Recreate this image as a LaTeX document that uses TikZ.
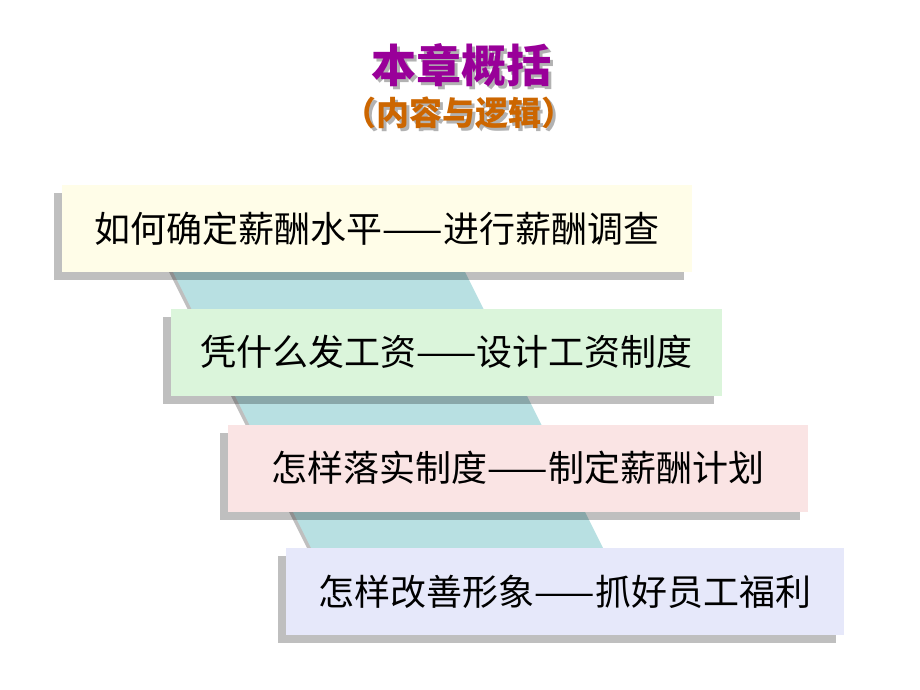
\documentclass[tikz,border=0pt]{standalone}
\usepackage{fontspec}
\newfontfamily\cjk{Noto Sans CJK SC}
\usetikzlibrary{shadows}
\definecolor{titlepurple}{RGB}{153,0,153}
\definecolor{suborange}{RGB}{204,102,0}
\definecolor{bandteal}{RGB}{184,224,226}
\definecolor{boxyellow}{RGB}{255,253,232}
\definecolor{boxgreen}{RGB}{219,245,219}
\definecolor{boxpink}{RGB}{250,228,228}
\definecolor{boxlilac}{RGB}{230,232,250}
\tikzset{
  stepbox/.style={inner sep=0pt, minimum height=87pt,
    font=\cjk\fontsize{36}{40}\selectfont,
    drop shadow={shadow xshift=-8pt, shadow yshift=-8pt, fill=black, opacity=0.25}},
  heading/.style={font=\cjk\bfseries\fontsize{45}{50}\selectfont},
  subheading/.style={font=\cjk\bfseries\fontsize{33}{36}\selectfont}
}
\begin{document}
\begin{tikzpicture}[x=1pt,y=-1pt]
      \useasboundingbox (0,0) rectangle (920,690);
      % title
      \node[heading, text=black!30] (titleshadow) at (464,68) {本章概括};
      \node[heading, text=titlepurple] (title) at (461,65) {本章概括};
      \node[subheading, text=black!30] (subshadow) at (462,116) {（内容与逻辑）};
      \node[subheading, text=suborange] (subtitle) at (459,113) {（内容与逻辑）};
      % slanted band behind the boxes
      \fill[black!25] (153,240) -- (445,240) -- (620,590) -- (328,590) -- cycle;
      \fill[bandteal] (157,240) -- (449,240) -- (624,590) -- (332,590) -- cycle;
      % the four steps
      \node[stepbox, fill=boxyellow, minimum width=630pt] (salary) at (377,228.5)
        {如何确定薪酬水平——进行薪酬调查};
      \node[stepbox, fill=boxgreen, minimum width=551pt] (wage) at (446.5,352)
        {凭什么发工资——设计工资制度};
      \node[stepbox, fill=boxpink, minimum width=580pt] (plan) at (518,468)
        {怎样落实制度——制定薪酬计划};
      \node[stepbox, fill=boxlilac, minimum width=558pt] (welfare) at (565,591.5)
        {怎样改善形象——抓好员工福利};
    \end{tikzpicture}
\end{document}
